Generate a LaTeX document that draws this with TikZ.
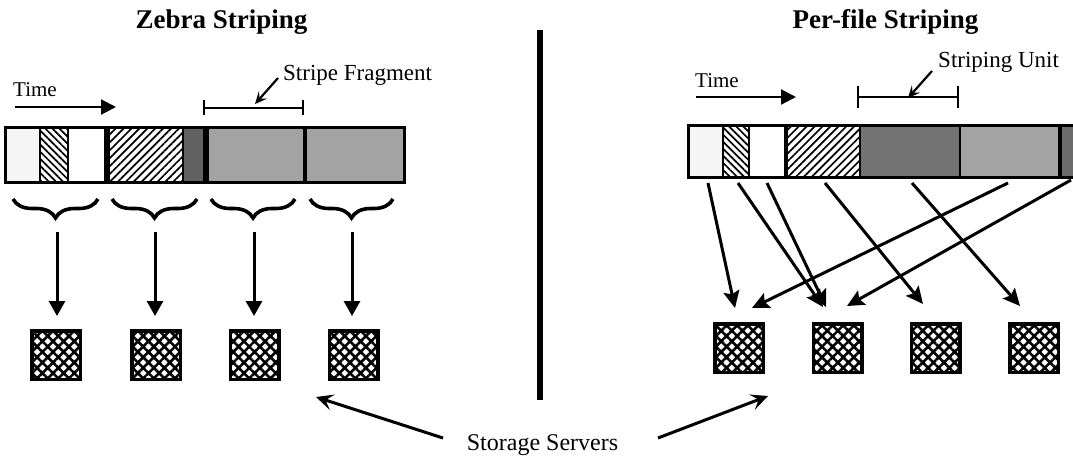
\documentclass[tikz,border=0pt]{standalone}
\usepackage{fontspec}
\setmainfont{Liberation Serif}
\usetikzlibrary{arrows.meta,patterns.meta,decorations.pathreplacing}
\begin{document}
\begin{tikzpicture}[x=1pt,y=-1pt,
  titletext/.style={font=\fontsize{27}{30}\selectfont\bfseries, inner sep=0, anchor=base},
  lbl/.style={font=\fontsize{23}{26}\selectfont, inner sep=0, anchor=base west},
  timelbl/.style={font=\fontsize{21}{24}\selectfont, inner sep=0, anchor=base west},
  server/.style={draw, line width=3.5pt, minimum size=48.5pt, inner sep=0, pattern={Hatch[angle=45,distance=7.5pt,line width=2.6pt]}},
  conn/.style={line width=3pt, -{Triangle[length=15pt,width=16pt]}},
  diag/.style={line width=3pt, -{Stealth[length=17pt,width=16pt,inset=3pt]}},
  timearrow/.style={line width=2.2pt, -{Triangle[length=15pt,width=15pt]}},
  pointer/.style={line width=2.2pt, -{Stealth[length=12pt,width=11pt,inset=5pt]}},
  ssarrow/.style={line width=3pt, -{Stealth[length=17pt,width=16pt,inset=7pt]}},
  bracebar/.style={line width=3.6pt, decorate, decoration={brace, amplitude=19pt, aspect=0.5}},
  unitbar/.style={line width=2pt},
  backhatch/.style={pattern={Lines[angle=-45,distance=5pt,line width=1.7pt]}},
  fwdhatch/.style={pattern={Lines[angle=45,distance=5.6pt,line width=1.7pt]}},
]
\clip (0,0) rectangle (1073,458);
\fill[white] (0,0) rectangle (1073,458);

% ---------- titles ----------
\node[titletext] (tz) at (221.5,28) {Zebra Striping};
\node[titletext] (tp) at (885.5,28) {Per-file Striping};

% ---------- divider ----------
\coordinate (dv1) at (540,30);
\coordinate (dv2) at (540,400);
\draw[line width=6pt] (dv1) -- (dv2);

% ---------- LEFT: Zebra ----------
\node[timelbl] (timeL) at (13,96) {Time};
\coordinate (tl1) at (15,107);
\coordinate (tl2) at (116,107);
\draw[timearrow] (tl1) -- (tl2);

\coordinate (fb1) at (204,108);
\coordinate (fb2) at (303,108);
\draw[unitbar] (fb1) -- (fb2);
\draw[unitbar] (204,100) -- (204,115);
\draw[unitbar] (303,100) -- (303,115);
\node[lbl] (sf) at (283,80) {Stripe Fragment};
\coordinate (sfp1) at (278,78);
\coordinate (sfp2) at (255,104);
\draw[pointer] (sfp1) -- (sfp2);

% bar
\fill[black!4] (5,127) rectangle (40,182);
\fill[backhatch] (40,127) rectangle (68,182);
\fill[fwdhatch] (107,127) rectangle (183,182);
\fill[black!62] (183,127) rectangle (205,182);
\fill[black!36] (205,127) rectangle (305,182);
\fill[black!36] (305,127) rectangle (404,182);
\draw[line width=1.5pt] (40,127) -- (40,182);
\draw[line width=1.5pt] (68,127) -- (68,182);
\draw[line width=6pt] (107,127) -- (107,182);
\draw[line width=1.2pt] (183,127) -- (183,182);
\draw[line width=6pt] (205.5,127) -- (205.5,182);
\draw[line width=4pt] (305,127) -- (305,182);
\draw[line width=3pt] (5,127) rectangle (404,182);

% braces
\draw[bracebar] (98,199) -- (13,199);
\draw[bracebar] (197,199) -- (112,199);
\draw[bracebar] (295,199) -- (211,199);
\draw[bracebar] (393,199) -- (310,199);

% servers
\node[server] (L1) at (56,355) {};
\node[server] (L2) at (156,355) {};
\node[server] (L3) at (254.5,355) {};
\node[server] (L4) at (353.5,355) {};

\foreach \i/\x in {1/57,2/155,3/254,4/352}{
  \coordinate (la\i) at (\x,232);
  \coordinate (lb\i) at (\x,316);
  \draw[conn] (la\i) -- (lb\i);
}

% ---------- RIGHT: Per-file ----------
\node[timelbl] (timeR) at (695,87) {Time};
\coordinate (tr1) at (696,97);
\coordinate (tr2) at (796,97);
\draw[timearrow] (tr1) -- (tr2);

\coordinate (ub1) at (858,97);
\coordinate (ub2) at (958,97);
\draw[unitbar] (ub1) -- (ub2);
\draw[unitbar] (858,86) -- (858,108);
\draw[unitbar] (958,86) -- (958,108);
\node[lbl] (su) at (938,67) {Striping Unit};
\coordinate (sup1) at (932,71);
\coordinate (sup2) at (908,98);
\draw[pointer] (sup1) -- (sup2);

% bar
\fill[black!4] (688,125) rectangle (723,177);
\fill[backhatch] (723,125) rectangle (749,177);
\fill[fwdhatch] (786,125) rectangle (860,177);
\fill[black!55] (860,125) rectangle (960,177);
\fill[black!36] (960,125) rectangle (1060,177);
\fill[black!58] (1060,125) rectangle (1100,177);
\draw[line width=1.5pt] (723,125) -- (723,177);
\draw[line width=1.5pt] (749,125) -- (749,177);
\draw[line width=4pt] (786,125) -- (786,177);
\draw[line width=2pt] (860,125) -- (860,177);
\draw[line width=2.5pt] (960,125) -- (960,177);
\draw[line width=4pt] (1060,125) -- (1060,177);
\draw[line width=3pt] (688,125) rectangle (1100,177);

% servers
\node[server] (R1) at (739,348) {};
\node[server] (R2) at (837.5,348) {};
\node[server] (R3) at (935.5,348) {};
\node[server] (R4) at (1034,348) {};

\coordinate (ra1) at (708,183);  \coordinate (rb1) at (735,308);
\coordinate (ra2) at (738,183);  \coordinate (rb2) at (823,307);
\coordinate (ra3) at (767,183);  \coordinate (rb3) at (826,307);
\coordinate (ra4) at (825,183);  \coordinate (rb4) at (923,304);
\coordinate (ra5) at (912,183);  \coordinate (rb5) at (1020,306);
\coordinate (ra6) at (1008,183); \coordinate (rb6) at (752,308);
\coordinate (ra7) at (1071,180); \coordinate (rb7) at (847,306);
\foreach \i in {1,...,7}{\draw[diag] (ra\i) -- (rb\i);}

% ---------- Storage Servers ----------
\node[font=\fontsize{24}{27}\selectfont, inner sep=0, anchor=base] (ss) at (542.5,450) {Storage Servers};
\coordinate (ssl1) at (443,438);
\coordinate (ssl2) at (316,397);
\coordinate (ssr1) at (658,438);
\coordinate (ssr2) at (768,396);
\draw[ssarrow] (ssl1) -- (ssl2);
\draw[ssarrow] (ssr1) -- (ssr2);
\end{tikzpicture}
\end{document}
